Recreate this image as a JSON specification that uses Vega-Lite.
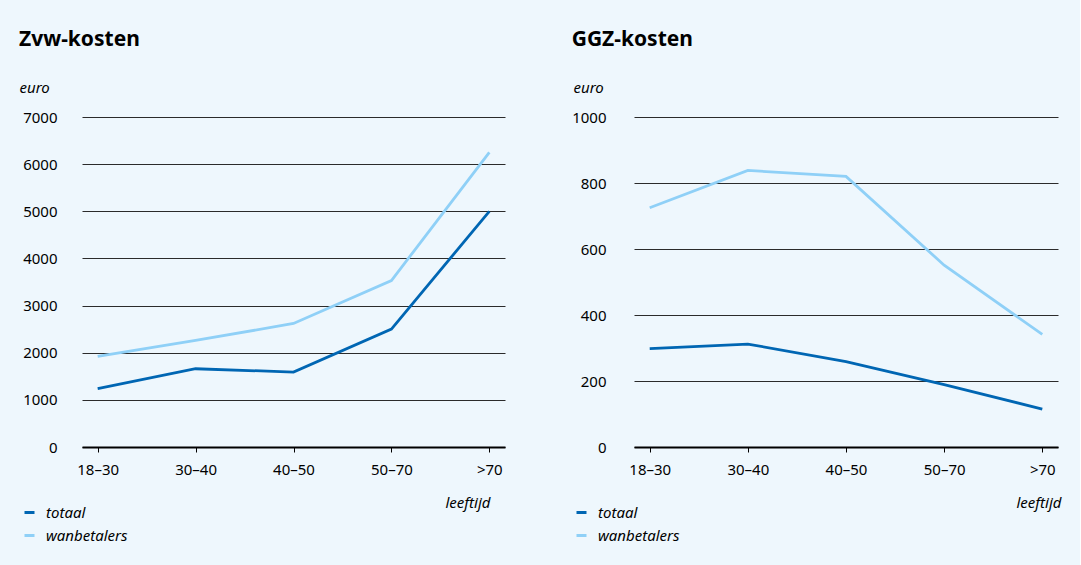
{
  "$schema": "https://vega.github.io/schema/vega-lite/v6.json",
  "background": "#eef7fd",
  "padding": {"left": 19, "top": 29, "right": 19, "bottom": 22},
  "spacing": 66,
  "datasets": {
    "zvw": [
      {"leeftijd": "18–30", "groep": "totaal", "kosten": 1240},
      {"leeftijd": "30–40", "groep": "totaal", "kosten": 1660},
      {"leeftijd": "40–50", "groep": "totaal", "kosten": 1590},
      {"leeftijd": "50–70", "groep": "totaal", "kosten": 2500},
      {"leeftijd": ">70", "groep": "totaal", "kosten": 5000},
      {"leeftijd": "18–30", "groep": "wanbetalers", "kosten": 1920},
      {"leeftijd": "30–40", "groep": "wanbetalers", "kosten": 2260},
      {"leeftijd": "40–50", "groep": "wanbetalers", "kosten": 2620},
      {"leeftijd": "50–70", "groep": "wanbetalers", "kosten": 3530},
      {"leeftijd": ">70", "groep": "wanbetalers", "kosten": 6250}
    ],
    "ggz": [
      {"leeftijd": "18–30", "groep": "totaal", "kosten": 298},
      {"leeftijd": "30–40", "groep": "totaal", "kosten": 312},
      {"leeftijd": "40–50", "groep": "totaal", "kosten": 259},
      {"leeftijd": "50–70", "groep": "totaal", "kosten": 189},
      {"leeftijd": ">70", "groep": "totaal", "kosten": 115},
      {"leeftijd": "18–30", "groep": "wanbetalers", "kosten": 725},
      {"leeftijd": "30–40", "groep": "wanbetalers", "kosten": 838},
      {"leeftijd": "40–50", "groep": "wanbetalers", "kosten": 820},
      {"leeftijd": "50–70", "groep": "wanbetalers", "kosten": 551},
      {"leeftijd": ">70", "groep": "wanbetalers", "kosten": 341}
    ]
  },
  "config": {
    "font": "Noto Sans",
    "view": {"stroke": null},
    "title": {"anchor": "start", "fontSize": 21, "fontWeight": "bold", "color": "#000", "baseline": "alphabetic", "offset": 30},
    "axis": {"labelFontSize": 15, "labelColor": "#000", "titleFontSize": 15, "titleFontStyle": "italic", "titleFontWeight": "normal", "titleColor": "#000"},
    "legend": {"labelFontSize": 15, "labelFontStyle": "italic", "labelColor": "#000"}
  },
  "hconcat": [
    {
      "title": "Zvw-kosten",
      "width": 423,
      "height": 330,
      "data": {"name": "zvw"},
      "mark": {"type": "line", "strokeWidth": 2.8},
      "encoding": {
        "x": {
          "field": "leeftijd", "type": "ordinal", "sort": null,
          "scale": {"type": "point", "padding": 0.16},
          "axis": {
            "title": "leeftijd", "labelAngle": 0, "domainColor": "#000", "domainWidth": 2,
            "tickColor": "#000", "tickSize": 5, "labelPadding": 10,
            "titleX": 408, "titleY": 55, "titleAlign": "right", "titleBaseline": "middle"
          }
        },
        "y": {
          "field": "kosten", "type": "quantitative",
          "scale": {"domain": [0, 7000], "nice": false},
          "axis": {
            "title": "euro", "values": [0, 1000, 2000, 3000, 4000, 5000, 6000, 7000], "format": "d",
            "domain": false, "ticks": false, "labelPadding": 25,
            "gridColor": "#2b2b2b", "gridWidth": 1, "gridOpacity": 1,
            "titleAngle": 0, "titleX": -63, "titleY": -30, "titleAlign": "left", "titleBaseline": "middle"
          }
        },
        "color": {
          "field": "groep", "type": "nominal",
          "scale": {"domain": ["totaal", "wanbetalers"], "range": ["#0066b3", "#8fd0f7"]},
          "legend": {
            "title": null, "orient": "none", "legendX": -60, "legendY": 388,
            "symbolType": "stroke", "symbolStrokeWidth": 3, "symbolSize": 100,
            "labelOffset": 9, "rowPadding": 7
          }
        }
      }
    },
    {
      "title": "GGZ-kosten",
      "width": 424,
      "height": 330,
      "data": {"name": "ggz"},
      "mark": {"type": "line", "strokeWidth": 2.8},
      "encoding": {
        "x": {
          "field": "leeftijd", "type": "ordinal", "sort": null,
          "scale": {"type": "point", "padding": 0.16},
          "axis": {
            "title": "leeftijd", "labelAngle": 0, "domainColor": "#000", "domainWidth": 2,
            "tickColor": "#000", "tickSize": 5, "labelPadding": 10,
            "titleX": 427, "titleY": 55, "titleAlign": "right", "titleBaseline": "middle"
          }
        },
        "y": {
          "field": "kosten", "type": "quantitative",
          "scale": {"domain": [0, 1000], "nice": false},
          "axis": {
            "title": "euro", "values": [0, 200, 400, 600, 800, 1000], "format": "d",
            "domain": false, "ticks": false, "labelPadding": 28,
            "gridColor": "#2b2b2b", "gridWidth": 1, "gridOpacity": 1,
            "titleAngle": 0, "titleX": -61, "titleY": -30, "titleAlign": "left", "titleBaseline": "middle"
          }
        },
        "color": {
          "field": "groep", "type": "nominal",
          "scale": {"domain": ["totaal", "wanbetalers"], "range": ["#0066b3", "#8fd0f7"]},
          "legend": {
            "title": null, "orient": "none", "legendX": -60, "legendY": 388,
            "symbolType": "stroke", "symbolStrokeWidth": 3, "symbolSize": 100,
            "labelOffset": 9, "rowPadding": 7
          }
        }
      }
    }
  ],
  "resolve": {"scale": {"color": "independent"}}
}
